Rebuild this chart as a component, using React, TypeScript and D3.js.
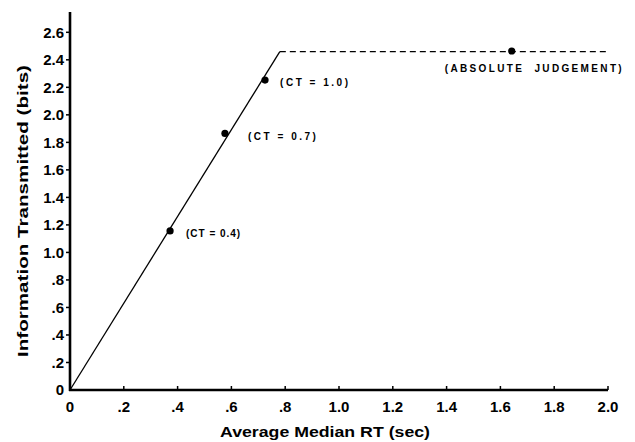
import React from "react";
import * as d3 from "d3";

const conditionLabels = ["(CT = 0.4)", "(CT = 0.7)", "(CT = 1.0)", "(ABSOLUTE  JUDGEMENT)"];
const rtValues = [0.372, 0.576, 0.725, 1.642];
const bitsValues = [1.156, 1.865, 2.253, 2.464];

const fitRise = [0, 0.78];
const fitRiseBits = [0, 2.46];
const fitFlat = [0.78, 2.0];
const fitFlatBits = [2.46, 2.46];

const xTickValues = [0, 0.2, 0.4, 0.6, 0.8, 1.0, 1.2, 1.4, 1.6, 1.8, 2.0];
const xTickLabels = ["0", ".2", ".4", ".6", ".8", "1.0", "1.2", "1.4", "1.6", "1.8", "2.0"];
const yTickValues = [0, 0.2, 0.4, 0.6, 0.8, 1.0, 1.2, 1.4, 1.6, 1.8, 2.0, 2.2, 2.4, 2.6];
const yTickLabels = ["0", ".2", ".4", ".6", ".8", "1.0", "1.2", "1.4", "1.6", "1.8", "2.0", "2.2", "2.4", "2.6"];

// label placement (layout only)
const labelDx = [16, 23, 15, -67];
const labelDy = [6, 7, 6, 21];
const labelLen = [54, 68, 68, 177];

const W = 635;
const H = 442;
const FONT = "'Liberation Sans', Arial, sans-serif";

export default function App() {
  const x = d3.scaleLinear().domain([0, 2]).range([70, 608]);
  const y = d3.scaleLinear().domain([0, 2.6]).range([390, 32.3]);
  const line = d3
    .line<[number, number]>()
    .x((d) => x(d[0]))
    .y((d) => y(d[1]));
  const rise = line(fitRise.map((v, i) => [v, fitRiseBits[i]] as [number, number]))!;
  const flat = line(fitFlat.map((v, i) => [v, fitFlatBits[i]] as [number, number]))!;

  return (
    <svg
      width={W}
      height={H}
      style={{ position: "absolute", left: 0, top: 0, background: "#fff" }}
      fontFamily={FONT}
    >
      <rect x={0} y={0} width={W} height={H} fill="#fff" />
      {/* axes */}
      <line x1={x(0)} y1={12} x2={x(0)} y2={y(0) + 1} stroke="#000" strokeWidth={2.6} />
      <line x1={x(0) - 1} y1={y(0)} x2={x(2)} y2={y(0)} stroke="#000" strokeWidth={2.6} />
      {xTickValues.map((v, i) => (
        <g key={"xt" + i}>
          {i > 0 && (
            <line x1={x(v)} x2={x(v)} y1={y(0)} y2={y(0) - 4} stroke="#000" strokeWidth={1.5} />
          )}
          <text
            x={x(v)}
            y={412}
            textAnchor="middle"
            fontSize={15}
            fontWeight="bold"
            fill="#000"
          >
            {xTickLabels[i]}
          </text>
        </g>
      ))}
      {yTickValues.map((v, i) => (
        <g key={"yt" + i}>
          {i > 0 && (
            <line x1={x(0)} x2={x(0) - 4} y1={y(v)} y2={y(v)} stroke="#000" strokeWidth={1.5} />
          )}
          <text
            x={64}
            y={y(v)}
            dy="0.36em"
            textAnchor="end"
            fontSize={15}
            fontWeight="bold"
            fill="#000"
          >
            {yTickLabels[i]}
          </text>
        </g>
      ))}
      {/* axis titles */}
      <text
        x={325}
        y={437}
        textAnchor="middle"
        fontSize={15}
        fontWeight="bold"
        textLength={210}
        lengthAdjust="spacingAndGlyphs"
        fill="#000"
      >
        Average Median RT (sec)
      </text>
      <text
        transform={`translate(28,211) rotate(-90)`}
        textAnchor="middle"
        fontSize={15}
        fontWeight="bold"
        textLength={292}
        lengthAdjust="spacingAndGlyphs"
        fill="#000"
      >
        Information Transmitted (bits)
      </text>
      {/* fit lines */}
      <path d={rise} fill="none" stroke="#000" strokeWidth={1.3} />
      <path d={flat} fill="none" stroke="#000" strokeWidth={1.3} strokeDasharray="6,4" />
      {/* points and labels */}
      {rtValues.map((v, i) => (
        <g key={"p" + i}>
          <circle cx={x(v)} cy={y(bitsValues[i])} r={3.6} fill="#000" />
          <text
            x={x(v) + labelDx[i]}
            y={y(bitsValues[i]) + labelDy[i]}
            fontSize={10}
            fontWeight="bold"
            textLength={labelLen[i]}
            lengthAdjust="spacing"
            fill="#000"
            style={{ whiteSpace: "pre" }}
          >
            {conditionLabels[i]}
          </text>
        </g>
      ))}
    </svg>
  );
}
